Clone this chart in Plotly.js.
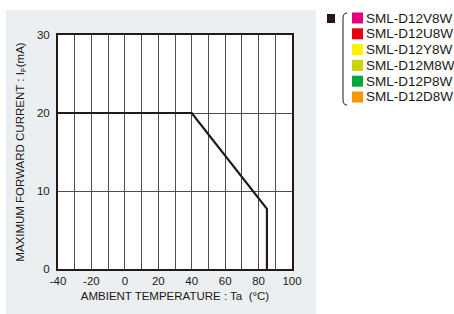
<!DOCTYPE html>
<html>
<head>
<meta charset="utf-8">
<script src="https://cdn.plot.ly/plotly-3.0.1.min.js"></script>
<style>html,body{margin:0;padding:0;background:#fff;}#chart{width:454px;height:314px;}</style>
</head>
<body>
<div id="chart"></div>
<script>
// ---- data ----
var temperature = [-40, 40, 85, 85];
var maxCurrent = [20, 20, 7.7, 0];
var xTickVals = [-40, -20, 0, 20, 40, 60, 80, 100];
var xTickText = ["-40", "-20", "0", "20", "40", "60", "80", "100"];
var yTickVals = [0, 10, 20, 30];
var yTickText = ["0", "10", "20", "30"];
var products = ["SML-D12V8W", "SML-D12U8W", "SML-D12Y8W", "SML-D12M8W", "SML-D12P8W", "SML-D12D8W"];
var productColors = ["#E4007F", "#E60012", "#FFF100", "#C9D400", "#00A73C", "#F39800"];

// ---- layout helpers (pixel -> paper) ----
var W = 454, H = 314;
var mL = 58, mR = 162, mT = 35, mB = 45;
var pw = W - mL - mR, ph = H - mT - mB;
function px(x) { return (x - mL) / pw; }
function py(y) { return (H - mB - y) / ph; }

var ink = "#231815";
var font = "Liberation Sans, Arial, Helvetica, sans-serif";

var shapes = [
  {type: "rect", xref: "paper", yref: "paper", layer: "below",
   x0: px(6), x1: px(316), y0: py(10), y1: py(320),
   fillcolor: "#ECEFF2", line: {width: 0}},
  {type: "rect", xref: "x", yref: "y", layer: "below",
   x0: -40, x1: 100, y0: 0, y1: 30, fillcolor: "#FFFFFF", line: {width: 0}},
  // black marker square
  {type: "rect", xref: "paper", yref: "paper",
   x0: px(327), x1: px(335), y0: py(14), y1: py(23),
   fillcolor: ink, line: {width: 0}},
  // bracket
  {type: "path", xref: "paper", yref: "paper",
   path: "M " + px(347) + " " + py(13) + " Q " + px(343) + " " + py(13) + " " + px(343) + " " + py(18) +
         " L " + px(343) + " " + py(100) + " Q " + px(343) + " " + py(105) + " " + px(347) + " " + py(105),
   line: {color: ink, width: 1}}
];
var annotations = [];
var rowStart = 18, rowStep = 15.8;
for (var i = 0; i < products.length; i++) {
  var cy = rowStart + i * rowStep;
  shapes.push({type: "rect", xref: "paper", yref: "paper",
    x0: px(352), x1: px(363), y0: py(cy - 5.5), y1: py(cy + 5.5),
    fillcolor: productColors[i], line: {width: 0}});
  annotations.push({xref: "paper", yref: "paper", x: px(364), y: py(cy),
    xanchor: "left", yanchor: "middle", showarrow: false, text: products[i],
    font: {family: font, size: 13.5, color: ink}});
}

var trace = {
  x: temperature, y: maxCurrent, type: "scatter", mode: "lines",
  line: {color: ink, width: 2.2}, hoverinfo: "skip", showlegend: false
};

var gridColor = "#4d4d4d";
var layout = {
  width: W, height: H,
  margin: {l: mL, r: mR, t: mT, b: mB, pad: 0},
  paper_bgcolor: "#FFFFFF",
  plot_bgcolor: "rgba(0,0,0,0)",
  showlegend: false,
  font: {family: font, color: ink},
  xaxis: {
    range: [-40, 100], tickvals: xTickVals, ticktext: xTickText,
    showgrid: true, gridcolor: gridColor, gridwidth: 1,
    minor: {tick0: -40, dtick: 10, showgrid: true, gridcolor: gridColor, gridwidth: 1},
    zeroline: false, showline: true, linecolor: ink, linewidth: 2, mirror: true,
    ticks: "", tickfont: {size: 11.5, color: ink, family: font},
    title: {text: "AMBIENT TEMPERATURE : Ta  (°C)", font: {size: 11.5, color: ink, family: font}, standoff: 6},
    fixedrange: true
  },
  yaxis: {
    range: [0, 30], tickvals: yTickVals, ticktext: yTickText,
    showgrid: true, gridcolor: gridColor, gridwidth: 1,
    zeroline: false, showline: true, linecolor: ink, linewidth: 2, mirror: true,
    ticks: "", ticklabelstandoff: 4, tickfont: {size: 11.5, color: ink, family: font},
    title: {text: "MAXIMUM FORWARD CURRENT : I<sub>F</sub>(mA)", font: {size: 11.5, color: ink, family: font}, standoff: 10},
    fixedrange: true
  },
  shapes: shapes,
  annotations: annotations
};

Plotly.newPlot("chart", [trace], layout, {displayModeBar: false, staticPlot: true});
</script>
</body>
</html>
